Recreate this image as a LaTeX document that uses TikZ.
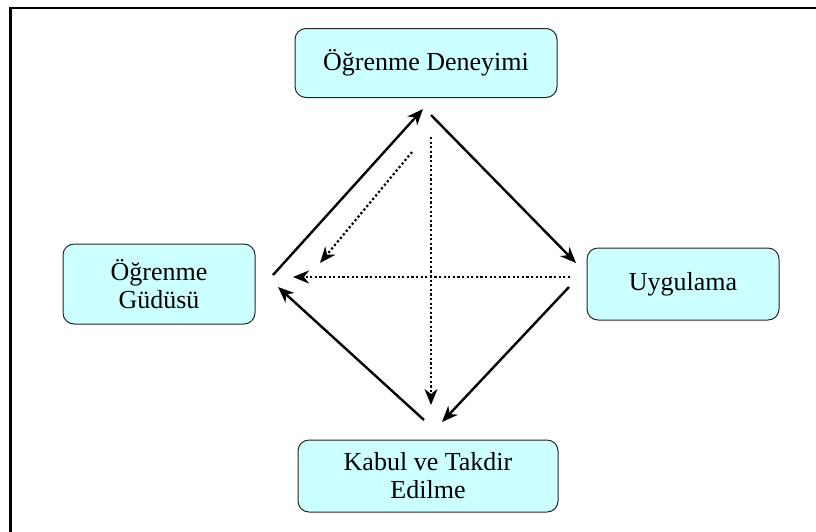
\documentclass[tikz,border=0pt]{standalone}
\usepackage{fontspec}
\setmainfont{Liberation Serif}
\usetikzlibrary{arrows.meta}
\definecolor{boxfill}{HTML}{CCFFFF}
\begin{document}
\begin{tikzpicture}[x=1pt,y=-1pt,
  box/.style={draw=black!85, line width=1pt, fill=boxfill, rounded corners=11pt,
    align=center, inner sep=0pt, font=\fontsize{26}{28}\selectfont},
  flow/.style={line width=2.4pt, -{Stealth[length=16pt,width=13pt,inset=5pt]}},
  hint/.style={line width=2.2pt, dash pattern=on 2.2pt off 2.4pt,
    -{Stealth[length=16pt,width=13pt,inset=5pt]}}]
  \useasboundingbox (0,0) rectangle (816,531);
  \clip (0,0) rectangle (816,531);
  % outer frame
  \draw[line width=2.2pt] (10.5,8) rectangle (840,560);

  % stages of the cycle
  \node[box, minimum width=262pt, minimum height=69pt] (deney) at (426,63) {Öğrenme Deneyimi};
  \node[box, minimum width=192pt, minimum height=80pt] (gudu) at (159,284) {Öğrenme\\Güdüsü};
  \node[box, minimum width=192pt, minimum height=72pt] (uygu) at (683,284) {Uygulama};
  \node[box, minimum width=260pt, minimum height=72pt] (kabul) at (428,476) {Kabul ve Takdir\\Edilme};

  % connector end points
  \coordinate (g1) at (273,275);
  \coordinate (d1) at (423,109);
  \coordinate (d2) at (431,115);
  \coordinate (u1) at (576,263);
  \coordinate (u2) at (569,287);
  \coordinate (k1) at (442,422);
  \coordinate (k2) at (424,420);
  \coordinate (g2) at (278,287);
  \coordinate (v1) at (431,137);
  \coordinate (v2) at (431,405);
  \coordinate (h1) at (570,277);
  \coordinate (h2) at (293,277);
  \coordinate (s1) at (412,152);
  \coordinate (s2) at (320,263);

  % main cycle
  \draw[flow] (g1) -- (d1);
  \draw[flow] (d2) -- (u1);
  \draw[flow] (u2) -- (k1);
  \draw[flow] (k2) -- (g2);

  % dotted inner links
  \draw[hint] (v1) -- (v2);
  \draw[hint] (h1) -- (h2);
  \draw[hint] (s1) -- (s2);
\end{tikzpicture}
\end{document}
